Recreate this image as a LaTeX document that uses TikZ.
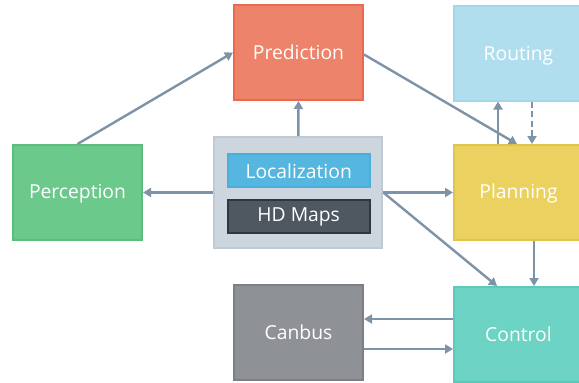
\documentclass[tikz,border=0pt]{standalone}
\usepackage{fontspec}
\setmainfont{Open Sans}
\usetikzlibrary{arrows.meta}
\definecolor{arrowc}{HTML}{7D93A7}
\definecolor{predF}{HTML}{EC836A}\definecolor{predD}{HTML}{E96A4C}
\definecolor{routF}{HTML}{B0DEEE}\definecolor{routD}{HTML}{A3D6E8}
\definecolor{planF}{HTML}{EBD160}\definecolor{planD}{HTML}{E2C449}
\definecolor{ctrlF}{HTML}{6CD3C5}\definecolor{ctrlD}{HTML}{5CCABB}
\definecolor{canF}{HTML}{8E9196}\definecolor{canD}{HTML}{7C7F84}
\definecolor{percF}{HTML}{6CC98C}\definecolor{percD}{HTML}{5ABF7B}
\definecolor{grpF}{HTML}{CDD5DE}\definecolor{grpD}{HTML}{C0CAD4}
\definecolor{locF}{HTML}{55B6E0}\definecolor{locD}{HTML}{4BAEDB}
\definecolor{hdF}{HTML}{4F5761}\definecolor{hdD}{HTML}{30363D}
\tikzset{
  label font/.style={font=\fontsize{19.3}{23}\selectfont},
  module/.style={draw=#1D, fill=#1F, line width=2pt, minimum width=129pt,
    minimum height=95pt, inner sep=0pt, text=white, label font},
  bar/.style={draw=#1D, fill=#1F, line width=2pt, minimum width=142pt,
    minimum height=33pt, inner sep=0pt, text=white, label font},
  arr/.style={draw=arrowc, line width=2.4pt,
    -{Triangle[length=8pt,width=9pt]}},
}
\begin{document}
\begin{tikzpicture}[x=1pt,y=-1pt]
\useasboundingbox (0,0) rectangle (579,383);
\clip (0,0) rectangle (579,383);
% modules
\node[module=pred] (pred) at (298.5,52.5) {Prediction};
\node[module=rout] (rout) at (518.5,53) {\rule{0pt}{19pt}Routing};
\node[module=plan] (plan) at (518.5,192.5) {\rule{0pt}{17pt}Planning};
\node[module=ctrl] (ctrl) at (518.5,334.5) {Control};
\node[module=can]  (cb)   at (298.5,332.5) {Canbus};
\node[module=perc] (perc) at (77.5,192.5) {\rule{0pt}{17pt}Perception};
% localization group
\node[draw=grpD, fill=grpF, line width=2pt, minimum width=168pt,
  minimum height=111pt, inner sep=0pt] (grp) at (298.3,192.5) {};
\node[bar=loc] (loc) at (298.7,170.8) {Localization};
\node[bar=hd]  (hd)  at (298.7,216.8) {HD Maps};
% connectors
\draw[arr] (perc.north) -- (pred.west);
\draw[arr] (grp.north) -- (pred.south);
\draw[arr] (grp.west) -- (perc.east);
\draw[arr] ([yshift=-2pt]pred.east) -- ([xshift=-1.5pt]plan.north);
\draw[arr] ([xshift=-20.5pt]plan.north) -- ([xshift=-20.5pt]rout.south);
\draw[arr, dash pattern=on 6pt off 3.5pt] ([xshift=13.5pt]rout.south) -- ([xshift=13.5pt]plan.north);
\draw[arr] (grp.east) -- (plan.west);
\draw[arr] (grp.east) -- ([xshift=-21.5pt]ctrl.north);
\draw[arr] ([xshift=15.5pt]plan.south) -- ([xshift=15.5pt]ctrl.north);
\draw[arr] ([yshift=15.5pt]ctrl.west) -- ([yshift=13.5pt]cb.east);
\draw[arr] ([yshift=-16.5pt]cb.east) -- ([yshift=-14.5pt]ctrl.west);
\end{tikzpicture}
\end{document}
